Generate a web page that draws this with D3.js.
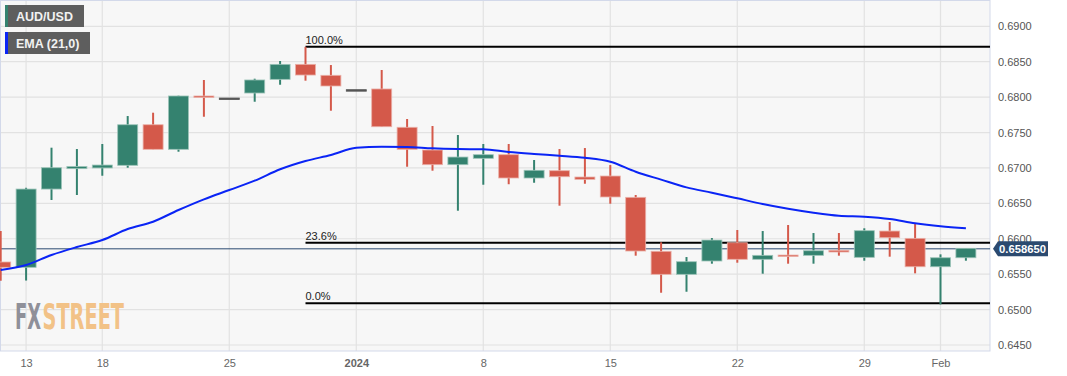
<!DOCTYPE html>
<html><head><meta charset="utf-8">
<script src="https://cdn.jsdelivr.net/npm/d3@7"></script>
<style>
html,body{margin:0;padding:0;background:#fff;}
svg{display:block;font-family:"Liberation Sans",Arial,sans-serif;}
</style></head>
<body>
<svg id="chart" width="1067" height="376"></svg>
<script>
const dates = ["2023-12-12","2023-12-13","2023-12-14","2023-12-15","2023-12-18","2023-12-19","2023-12-20","2023-12-21","2023-12-22","2023-12-25","2023-12-26","2023-12-27","2023-12-28","2023-12-29","2024-01-01","2024-01-02","2024-01-03","2024-01-04","2024-01-05","2024-01-08","2024-01-09","2024-01-10","2024-01-11","2024-01-12","2024-01-15","2024-01-16","2024-01-17","2024-01-18","2024-01-19","2024-01-22","2024-01-23","2024-01-24","2024-01-25","2024-01-26","2024-01-29","2024-01-30","2024-01-31","2024-02-01","2024-02-02"];
const open  = [0.65672,0.65597,0.66702,0.66990,0.67000,0.67037,0.67610,0.67263,0.68016,0.67987,0.68058,0.68251,0.68463,0.68308,0.68105,0.68115,0.67574,0.67253,0.67046,0.67136,0.67187,0.66858,0.66961,0.66872,0.66886,0.66585,0.65823,0.65498,0.65686,0.65944,0.65710,0.65770,0.65766,0.65837,0.65738,0.66109,0.66006,0.65605,0.65732];
const high  = [0.66110,0.66720,0.67286,0.67267,0.67338,0.67733,0.67780,0.68020,0.68242,0.67987,0.68260,0.68510,0.68710,0.68453,0.68105,0.68383,0.67691,0.67592,0.67465,0.67338,0.67338,0.67112,0.67267,0.67281,0.67041,0.66618,0.65950,0.65742,0.66010,0.66124,0.66109,0.66194,0.66081,0.66081,0.66148,0.66237,0.66208,0.65780,0.65865];
const low   = [0.65408,0.65410,0.66547,0.66618,0.66890,0.67003,0.67263,0.67229,0.67723,0.67987,0.67935,0.68175,0.68232,0.67808,0.68105,0.67582,0.67017,0.66961,0.66396,0.66763,0.66770,0.66791,0.66467,0.66777,0.66495,0.65761,0.65238,0.65252,0.65648,0.65662,0.65507,0.65648,0.65648,0.65761,0.65690,0.65747,0.65512,0.65074,0.65690];
const close = [0.65597,0.66702,0.67003,0.67020,0.67041,0.67610,0.67263,0.68016,0.68000,0.67987,0.68242,0.68463,0.68312,0.68157,0.68105,0.67582,0.67263,0.67046,0.67154,0.67187,0.66858,0.66967,0.66876,0.66839,0.66590,0.65827,0.65498,0.65676,0.65982,0.65710,0.65766,0.65756,0.65831,0.65813,0.66114,0.66015,0.65605,0.65732,0.65865];
const ema21 = [0.65559,0.65629,0.65771,0.65883,0.65982,0.66137,0.66241,0.66406,0.66557,0.66688,0.66820,0.66981,0.67098,0.67183,0.67284,0.67300,0.67296,0.67277,0.67267,0.67263,0.67225,0.67197,0.67173,0.67144,0.67088,0.66947,0.66835,0.66726,0.66650,0.66571,0.66491,0.66424,0.66368,0.66325,0.66311,0.66279,0.66218,0.66176,0.66148];
const xTickIndex = [1,4,9,14,19,24,29,34,37];
const xTickLabels = ["13","18","25","2024","8","15","22","29","Feb"];
const yTicks = [0.6450,0.6500,0.6550,0.6600,0.6650,0.6700,0.6750,0.6800,0.6850,0.6900];
const fibHigh = 0.6871, fibLow = 0.6509, fibStartIndex = 12;
const fibLevels = [1.0, 0.236, 0.0];
const fibLabels = ["100.0%","23.6%","0.0%"];
const lastPrice = 0.65865;

const W = 990, H = 351;
const svg = d3.select("#chart");
const x = d3.scaleLinear().domain([0, dates.length - 1]).range([0.7, 0.7 + 38 * 25.4]);
const y = d3.scaleLinear().domain([0.6450, 0.6900]).range([345, 26.3]);

svg.append("defs").append("clipPath").attr("id","clip")
  .append("rect").attr("x",0).attr("y",0).attr("width",W).attr("height",H);

svg.append("rect").attr("x",0).attr("y",0).attr("width",W).attr("height",H).attr("fill","#f7f7f7");

// grid
const grid = svg.append("g").attr("clip-path","url(#clip)");
grid.selectAll("line.h").data(yTicks).join("line")
  .attr("x1",0).attr("x2",W).attr("y1",d=>y(d)).attr("y2",d=>y(d))
  .attr("stroke","#e2e2e2").attr("stroke-width",1.2);
grid.selectAll("line.v").data(xTickIndex).join("line")
  .attr("y1",0).attr("y2",H).attr("x1",d=>x(d)).attr("x2",d=>x(d))
  .attr("stroke","#e2e2e2").attr("stroke-width",1.2);

// border
svg.append("rect").attr("x",0.5).attr("y",0.5).attr("width",W-0.5).attr("height",H-0.5)
  .attr("fill","none").attr("stroke","#d3d9ea").attr("stroke-width",1);

// watermark
const wmFont = "'DejaVu Sans Condensed','DejaVu Sans',sans-serif";
const wm = svg.append("g").attr("transform","translate(15,329) scale(1,1.75)");
wm.append("text").attr("x",0).attr("y",0).attr("font-family",wmFont).attr("font-weight","bold")
  .attr("font-size",20).attr("textLength",26).attr("lengthAdjust","spacingAndGlyphs")
  .attr("fill","#8f9099").text("FX");
wm.append("text").attr("x",27.5).attr("y",0).attr("font-family",wmFont).attr("font-weight","bold")
  .attr("font-size",20).attr("textLength",81.5).attr("lengthAdjust","spacingAndGlyphs")
  .attr("fill","#f2c287").text("STREET");

const plot = svg.append("g").attr("clip-path","url(#clip)");

// fib lines
fibLevels.forEach((lv,k)=>{
  const v = fibLow + lv*(fibHigh-fibLow);
  plot.append("line").attr("x1",x(fibStartIndex)).attr("x2",W)
    .attr("y1",y(v)).attr("y2",y(v)).attr("stroke","#000").attr("stroke-width",2);
  plot.append("text").attr("x",x(fibStartIndex)).attr("y",y(v)-3)
    .attr("font-size",11).attr("fill","#222").text(fibLabels[k]);
});

// current price line
plot.append("line").attr("x1",0).attr("x2",W).attr("y1",y(lastPrice)+0.5).attr("y2",y(lastPrice)+0.5)
  .attr("stroke","#2b4a70").attr("stroke-width",1);

// candles
const data = dates.map((d,i)=>({i,o:open[i],h:high[i],l:low[i],c:close[i]}));
const col = d => d.c > d.o ? "#34826f" : (d.c < d.o ? "#d4594a" : "#555");
const edge = d => d.c > d.o ? "#9cc4b8" : (d.c < d.o ? "#eab0a8" : "#555");
const cg = plot.selectAll("g.c").data(data).join("g");
cg.append("line").attr("x1",d=>x(d.i)).attr("x2",d=>x(d.i))
  .attr("y1",d=>y(d.h)).attr("y2",d=>y(d.l)).attr("stroke",col).attr("stroke-width",2);
cg.append("rect").attr("x",d=>x(d.i)-10).attr("width",20)
  .attr("y",d=>y(Math.max(d.o,d.c)))
  .attr("height",d=>Math.max(1.5, Math.abs(y(d.o)-y(d.c))))
  .attr("fill",col).attr("stroke",edge).attr("stroke-width",0.8);

// EMA
plot.append("path").datum(ema21)
  .attr("d", d3.line().x((d,i)=>x(i)).y(d=>y(d)).curve(d3.curveMonotoneX))
  .attr("fill","none").attr("stroke","#0a24f5").attr("stroke-width",2);

// y axis
const ya = svg.append("g").attr("transform",`translate(${W},0)`)
  .call(d3.axisRight(y).tickValues(yTicks).tickFormat(d3.format(".4f")).tickSize(0).tickPadding(8));
ya.select(".domain").remove();
ya.selectAll("text").attr("font-size",11).attr("fill","#555").attr("font-family","'Liberation Sans',Arial,sans-serif");

// x axis
const xa = svg.append("g").attr("transform",`translate(0,${H})`)
  .call(d3.axisBottom(x).tickValues(xTickIndex).tickFormat((d,k)=>xTickLabels[k]).tickSize(0).tickPadding(8));
xa.select(".domain").remove();
xa.selectAll("text").attr("font-size",11).attr("fill","#666").attr("font-family","'Liberation Sans',Arial,sans-serif")
  .attr("font-weight",(d,k)=>xTickLabels[k]==="2024"?"bold":"normal");

// price tag
const py = y(lastPrice)+0.5;
svg.append("path").attr("d",`M993,${py} L998,${py-7.5} L1048,${py-7.5} L1048,${py+7.5} L998,${py+7.5} Z`)
  .attr("fill","#2b4a70");
svg.append("text").attr("x",999).attr("y",py+4.2).attr("font-size",11.5).attr("font-weight","bold")
  .attr("textLength",47).attr("lengthAdjust","spacingAndGlyphs")
  .attr("fill","#fff").text(d3.format(".6f")(lastPrice));

// legend
const legendItems = [["AUD/USD","#34826f",5,79],["EMA (21,0)","#0a24f5",32,85]];
legendItems.forEach(([t,c,yy,w])=>{
  svg.append("rect").attr("x",5).attr("y",yy).attr("width",w).attr("height",22).attr("fill","#5e5e5e");
  svg.append("rect").attr("x",5).attr("y",yy).attr("width",3).attr("height",22).attr("fill",c);
  svg.append("text").attr("x",16).attr("y",yy+15.5).attr("font-size",12.5).attr("font-weight","bold")
    .attr("fill","#f2f2f2").text(t);
});
</script>
</body></html>
